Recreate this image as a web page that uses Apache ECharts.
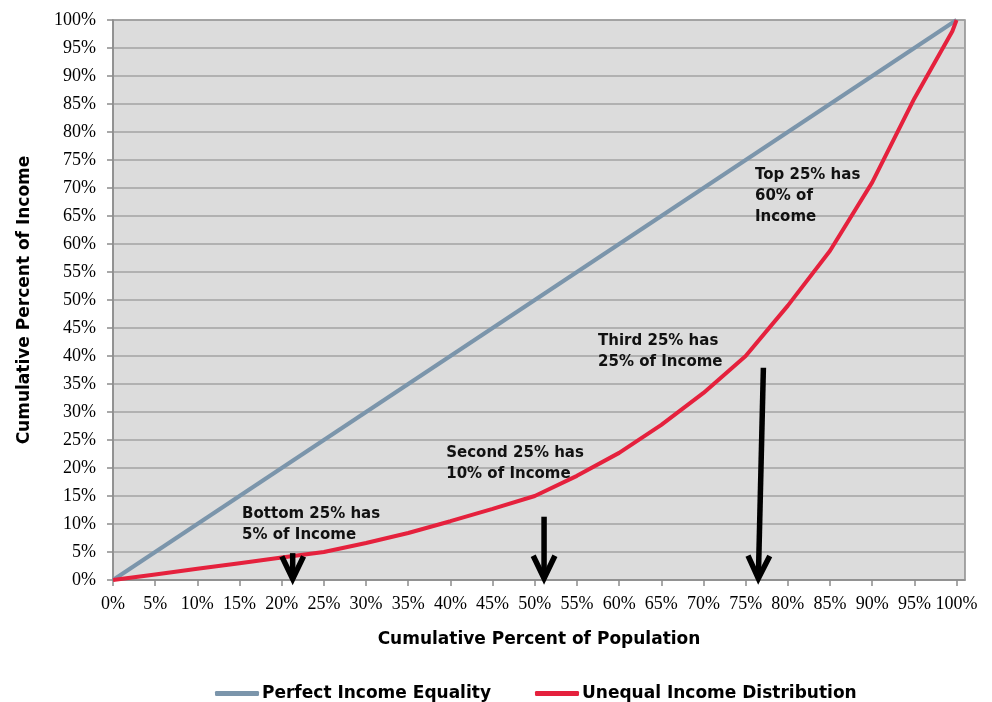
<!DOCTYPE html>
<html>
<head>
<meta charset="utf-8">
<title>Lorenz Curve</title>
<script src="https://cdn.jsdelivr.net/npm/echarts@6/dist/echarts.min.js"></script>
<style>
  html, body { margin: 0; padding: 0; background: #ffffff; }
  #chart { width: 992px; height: 702px; }
</style>
</head>
<body>
<div id="chart"></div>
<script>
// Cumulative share of population (%)
const populationPct = [0, 5, 10, 15, 20, 25, 30, 35, 40, 45, 50, 55, 60, 65, 70, 75, 80, 85, 90, 95, 99.5, 100];
// Cumulative share of income under an unequal distribution (%)
const unequalIncomePct = [0, 1, 2, 3, 4, 5, 6.6, 8.4, 10.5, 12.7, 15, 18.6, 22.7, 27.7, 33.4, 40, 49, 58.8, 71, 86, 98, 100];
// Perfect equality: income share equals population share
const equalityPopulationPct = [0, 100];
const equalityIncomePct = [0, 100];

const seriesNames = ['Perfect Income Equality', 'Unequal Income Distribution'];
const xTitle = 'Cumulative Percent of Population';
const yTitle = 'Cumulative Percent of Income';

// Text notes: anchor [population %, income %] at the top-left of each block
const noteAnchors = [[15.3, 13.6], [39.5, 24.6], [57.5, 44.6], [76.1, 74.1]];
const noteTexts = [
  'Bottom 25% has\n5% of Income',
  'Second 25% has\n10% of Income',
  'Third 25% has\n25% of Income',
  'Top 25% has\n60% of\nIncome'
];

// Pointer arrows: [fromX, fromY, toX, toY] in axis units
const arrows = [
  [21.3, 4.8, 21.3, 0.2],
  [51.1, 11.3, 51.1, 0.3],
  [77.1, 37.9, 76.5, 0.3]
];

const sansBold = '"DejaVu Sans", "Lato", sans-serif';
const serif = '"Liberation Serif", "Times New Roman", serif';

const chart = echarts.init(document.getElementById('chart'), null, { renderer: 'canvas' });

const pairs = (xs, ys) => xs.map((x, i) => [x, ys[i]]);

chart.setOption({
  animation: false,
  backgroundColor: '#ffffff',
  grid: {
    left: 113, top: 20, right: 27, bottom: 122,
    show: true,
    backgroundColor: '#dcdcdc',
    borderColor: '#8c8c8c',
    borderWidth: 1.5
  },
  legend: {
    top: 680,
    left: 210,
    itemGap: 44,
    itemWidth: 44,
    itemHeight: 5,
    icon: 'roundRect',
    textStyle: { fontFamily: sansBold, fontWeight: 'bold', fontSize: 17, color: '#000000', padding: [0, 0, 0, -2] },
    data: seriesNames
  },
  xAxis: {
    type: 'value',
    min: 0,
    max: 101,
    interval: 5,
    name: xTitle,
    nameLocation: 'middle',
    nameGap: 51,
    nameTextStyle: { fontFamily: sansBold, fontWeight: 'bold', fontSize: 17, color: '#000000' },
    axisLine: { show: true, lineStyle: { color: '#8c8c8c', width: 1.5 } },
    axisTick: { show: true, length: 6, lineStyle: { color: '#8c8c8c', width: 1.5 } },
    axisLabel: {
      margin: 15,
      showMaxLabel: false,
      fontFamily: serif, fontSize: 18, color: '#000000',
      formatter: v => (v % 5 === 0 && v <= 100) ? v + '%' : ''
    },
    splitLine: { show: false }
  },
  yAxis: {
    type: 'value',
    min: 0,
    max: 100,
    interval: 5,
    name: yTitle,
    nameLocation: 'middle',
    nameGap: 80,
    nameTextStyle: { fontFamily: sansBold, fontWeight: 'bold', fontSize: 17, color: '#000000' },
    axisLine: { show: true, lineStyle: { color: '#8c8c8c', width: 1.5 } },
    axisTick: { show: true, length: 6, lineStyle: { color: '#8c8c8c', width: 1.5 } },
    axisLabel: { margin: 17, fontFamily: serif, fontSize: 18, color: '#000000', formatter: '{value}%' },
    splitLine: { show: true, lineStyle: { color: '#a3a3a3', width: 1.5 } }
  },
  series: [
    {
      name: seriesNames[0],
      type: 'line',
      data: pairs(equalityPopulationPct, equalityIncomePct),
      symbol: 'none',
      lineStyle: { color: '#7b95ab', width: 4 },
      itemStyle: { color: '#7b95ab' },
      z: 3
    },
    {
      name: seriesNames[1],
      type: 'line',
      data: pairs(populationPct, unequalIncomePct),
      symbol: 'none',
      lineStyle: { color: '#e5213d', width: 4 },
      itemStyle: { color: '#e5213d' },
      z: 4,
      markPoint: {
        symbol: 'circle',
        symbolSize: 0,
        silent: true,
        label: {
          show: true,
          position: 'inside',
          align: 'left',
          verticalAlign: 'top',
          fontFamily: sansBold,
          fontWeight: 'bold',
          fontSize: 15,
          lineHeight: 21,
          color: '#111111'
        },
        data: noteAnchors.map((c, i) => ({
          coord: c,
          value: noteTexts[i],
          label: { formatter: noteTexts[i] }
        }))
      }
    },
    {
      name: 'arrows',
      type: 'custom',
      z: 6,
      clip: false,
      silent: true,
      encode: { x: [0, 2], y: [1, 3] },
      data: arrows,
      renderItem: (params, api) => {
        const p0 = api.coord([api.value(0), api.value(1)]);
        const p1 = api.coord([api.value(2), api.value(3)]);
        const ang = Math.atan2(p1[1] - p0[1], p1[0] - p0[0]);
        const headLen = 25, spread = 0.45;
        const a1 = [p1[0] - headLen * Math.cos(ang - spread), p1[1] - headLen * Math.sin(ang - spread)];
        const a2 = [p1[0] - headLen * Math.cos(ang + spread), p1[1] - headLen * Math.sin(ang + spread)];
        const style = { stroke: '#000000', lineWidth: 5.5, fill: null, lineJoin: 'miter' };
        return {
          type: 'group',
          children: [
            { type: 'polyline', shape: { points: [p0, p1] }, style },
            { type: 'polyline', shape: { points: [a1, p1, a2] }, style }
          ]
        };
      }
    }
  ]
});
</script>
</body>
</html>
